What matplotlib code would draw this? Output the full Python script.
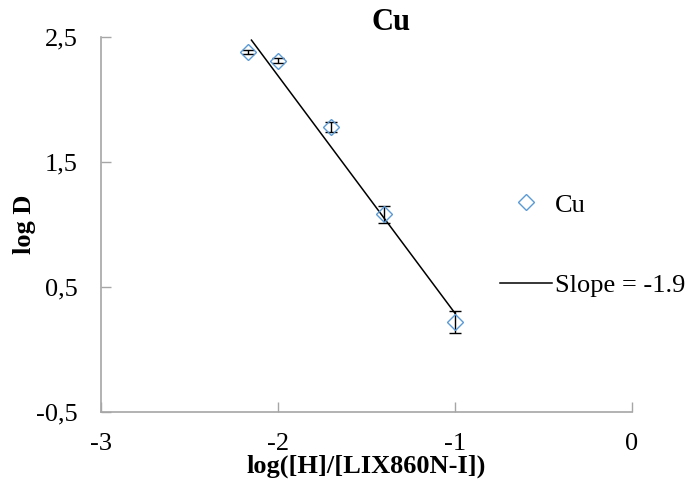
import matplotlib
matplotlib.use('Agg')
from matplotlib import pyplot as plt
from matplotlib.lines import Line2D
from matplotlib.ticker import FuncFormatter

# Cu extraction: log D vs log([H]/[LIX860N-I])
log_ratio = [-2.17, -2.0, -1.7, -1.4, -1.0]
log_d = [2.38, 2.31, 1.78, 1.08, 0.22]
log_d_err = [0.015, 0.02, 0.04, 0.07, 0.085]

slope = -1.9
intercept = -1.61
fit_x = [-2.15, -1.0]

plt.rcParams['font.family'] = ['Liberation Serif', 'DejaVu Serif']

fig = plt.figure(figsize=(6.87, 4.90), dpi=100)
ax = fig.add_axes([101/687, 1 - 412/490, (632-101)/687, (412-37)/490])

blue = '#5B9BD5'
grey = '#A6A6A6'

ax.errorbar(log_ratio, log_d, yerr=log_d_err, fmt='none', ecolor='black',
            elinewidth=1.0, capsize=4, capthick=1.0, zorder=2)
ax.plot(log_ratio, log_d, linestyle='none', marker='D', markersize=8,
        markerfacecolor='none', markeredgecolor=blue, markeredgewidth=1.0, zorder=3)
fit_y = [slope * x + intercept for x in fit_x]
ax.plot(fit_x, fit_y, color='black', linewidth=1.1, zorder=2)

ax.set_xlim(-3, 0)
ax.set_ylim(-0.5, 2.5)
ax.set_xticks([-3, -2, -1, 0])
ax.set_yticks([-0.5, 0.5, 1.5, 2.5])
ax.yaxis.set_major_formatter(FuncFormatter(lambda v, p: ('%.1f' % v).replace('.', ',')))
ax.xaxis.set_major_formatter(FuncFormatter(lambda v, p: '%d' % v))

for side in ['top', 'right']:
    ax.spines[side].set_visible(False)
for side in ['left', 'bottom']:
    ax.spines[side].set_color(grey)
    ax.spines[side].set_linewidth(1.2)
ax.tick_params(direction='in', length=7, width=1.0, color=grey,
               labelsize=19)
ax.tick_params(axis='x', pad=15)
ax.tick_params(axis='y', pad=17)

ax.set_title('Cu', fontsize=22, fontweight='bold', pad=1, x=0.546)
ax.set_xlabel('log([H]/[LIX860N-I])', fontsize=19, fontweight='bold', labelpad=0)
ax.set_ylabel('log D', fontsize=19, fontweight='bold', labelpad=0)

handles = [
    Line2D([], [], linestyle='none', marker='D', markersize=8,
           markerfacecolor='none', markeredgecolor=blue, markeredgewidth=1.0),
    Line2D([], [], color='black', linewidth=1.1),
]
fig.legend(handles, ['Cu', 'Slope = -1.9'], loc='center left',
           bbox_to_anchor=(500/687, 1 - 245/490), frameon=False,
           borderaxespad=0, borderpad=0,
           fontsize=19, handlelength=1.97, handletextpad=0.12, labelspacing=2.15)

fig.savefig('out.png', dpi=100)
